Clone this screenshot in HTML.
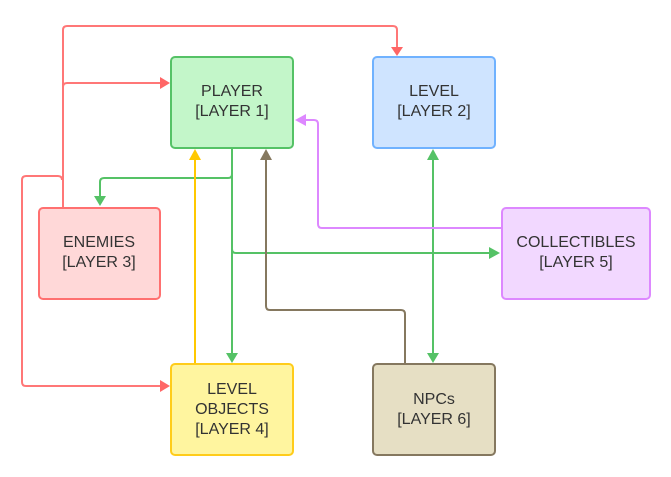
<!DOCTYPE html>
<html><head><meta charset="utf-8"><style>
html,body{margin:0;padding:0;background:#fff;}
svg{display:block;}
text{font-family:"Liberation Sans",sans-serif;font-size:16px;fill:#333;text-anchor:middle;}
</style></head><body>
<svg width="671" height="477" viewBox="0 0 671 477" xmlns="http://www.w3.org/2000/svg">
<g fill="none" stroke-width="2">
<path d="M63 208 V30 Q63 26 67 26 H393 Q397 26 397 30 V48" stroke="#ff7777"/>
<path d="M63 87 Q63 83 67 83 H162" stroke="#ff7777"/>
<path d="M62 180 Q62 176 58 176 H26 Q22 176 22 180 V382 Q22 386 26 386 H162" stroke="#ff7777"/>
<path d="M232 148 V355" stroke="#55c266"/>
<path d="M232 174 Q232 178 228 178 H104 Q100 178 100 182 V199" stroke="#55c266"/>
<path d="M232 249 Q232 253 236 253 H492" stroke="#55c266"/>
<path d="M433 157 V355" stroke="#55c266"/>
<path d="M195 364 V157" stroke="#ffc800"/>
<path d="M405 364 V314 Q405 310 401 310 H270 Q266 310 266 306 V157" stroke="#85785f"/>
<path d="M502 228 H322 Q318 228 318 224 V124 Q318 120 314 120 H302" stroke="#dd88ff"/>
</g>
<g>
<polygon points="391,47 403,47 397,56" fill="#ff6666"/>
<polygon points="160,77 160,89 170,83" fill="#ff6666"/>
<polygon points="160,380 160,392 170,386" fill="#ff6666"/>
<polygon points="226,353 238,353 232,363" fill="#55c266"/>
<polygon points="94,196 106,196 100,206" fill="#55c266"/>
<polygon points="489,247 489,259 500,253" fill="#55c266"/>
<polygon points="427,160 439,160 433,149" fill="#55c266"/>
<polygon points="427,353 439,353 433,363" fill="#55c266"/>
<polygon points="189,160 201,160 195,149" fill="#ffc800"/>
<polygon points="260,160 272,160 266,149" fill="#85785f"/>
<polygon points="306,114 306,126 295,120" fill="#dd88ff"/>
</g>
<g stroke-width="2">
<rect x="171" y="57" width="122" height="91" rx="4" fill="#c3f6c9" stroke="#55c266"/>
<rect x="373" y="57" width="122" height="91" rx="4" fill="#cfe4ff" stroke="#70b2ff"/>
<rect x="39" y="208" width="121" height="91" rx="4" fill="#ffd8d8" stroke="#ff7070"/>
<rect x="502" y="208" width="148" height="91" rx="4" fill="#f2d8ff" stroke="#dd88ff"/>
<rect x="171" y="364" width="122" height="91" rx="4" fill="#fff59f" stroke="#ffcc1a"/>
<rect x="373" y="364" width="122" height="91" rx="4" fill="#e6dfc4" stroke="#85785f"/>
</g>
<text x="232" y="96">PLAYER</text><text x="232" y="116">[LAYER 1]</text>
<text x="434" y="96">LEVEL</text><text x="434" y="116">[LAYER 2]</text>
<text x="99" y="247">ENEMIES</text><text x="99" y="267">[LAYER 3]</text>
<text x="576" y="247">COLLECTIBLES</text><text x="576" y="267">[LAYER 5]</text>
<text x="232" y="394">LEVEL</text><text x="232" y="414">OBJECTS</text><text x="232" y="434">[LAYER 4]</text>
<text x="434" y="404">NPCs</text><text x="434" y="424">[LAYER 6]</text>
</svg>
</body></html>
